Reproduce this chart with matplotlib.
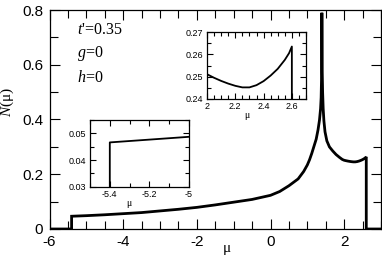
import numpy as np
import matplotlib
matplotlib.use("Agg")
import matplotlib.pyplot as plt
from matplotlib.ticker import MultipleLocator, FuncFormatter

plt.rcParams['axes.unicode_minus'] = False
plt.rcParams['font.family'] = ['Liberation Sans', 'DejaVu Sans']
plt.rcParams['mathtext.fontset'] = 'custom'
plt.rcParams['mathtext.rm'] = 'Liberation Serif'
plt.rcParams['mathtext.it'] = 'Liberation Serif:italic'

# density of states N(mu)
mu = [-6.0, -5.4, -5.4, -5.0, -4.5, -4.0, -3.5, -3.0, -2.5, -2.0, -1.5, -1.0, -0.5,
      0.0, 0.25, 0.5, 0.75, 0.9, 1.0, 1.06, 1.12, 1.18, 1.24, 1.29, 1.33, 1.36, 1.375, 1.387, 1.395,
      1.405, 1.415, 1.43, 1.45, 1.48, 1.53, 1.6, 1.69, 1.78, 1.87, 1.95,
      2.0, 2.05, 2.1, 2.15, 2.2, 2.25, 2.3, 2.35, 2.4, 2.45, 2.5, 2.55, 2.58, 2.6,
      2.6, 3.0]
dos = [0.0, 0.0, 0.0466, 0.0487, 0.052, 0.056, 0.060, 0.066, 0.072, 0.079, 0.088, 0.098, 0.108,
       0.123, 0.137, 0.158, 0.183, 0.21, 0.234, 0.253, 0.276, 0.302, 0.328, 0.362, 0.398, 0.44, 0.48, 0.56, 0.79,
       0.57, 0.50, 0.44, 0.395, 0.355, 0.322, 0.30, 0.285, 0.272, 0.262, 0.254,
       0.2511, 0.2495, 0.2481, 0.2469, 0.2459, 0.2452, 0.2452, 0.2462, 0.2480, 0.2505, 0.2535, 0.2575, 0.2605, 0.2635,
       0.0, 0.0]

params = ["$t$'=0.35", "$g$=0", "$h$=0"]
param_y = [0.909, 0.802, 0.688]

W, H = 382, 263
fig = plt.figure(figsize=(W / 100, H / 100), dpi=100)

def box(l, r, t, b):
    return [l / W, 1 - b / H, (r - l) / W, (b - t) / H]

def fmt(v, p):
    return '%g' % round(v, 4)

def style(a, size, ln, mln, pad):
    a.tick_params(which='both', direction='in', top=True, right=True, width=0.8,
                  labelsize=size, pad=pad)
    a.tick_params(which='major', length=ln)
    a.tick_params(which='minor', length=mln)
    for s in a.spines.values():
        s.set_linewidth(0.9)
    a.xaxis.set_major_formatter(FuncFormatter(fmt))
    a.yaxis.set_major_formatter(FuncFormatter(fmt))

# main axes
ax = fig.add_axes(box(49.5, 381, 10, 229))
ax.plot(mu, dos, color='black', lw=2.0, solid_joinstyle='miter')
ax.set_xlim(-6, 3)
ax.set_ylim(0, 0.8)
ax.xaxis.set_major_locator(MultipleLocator(2))
ax.xaxis.set_minor_locator(MultipleLocator(0.5))
ax.yaxis.set_major_locator(MultipleLocator(0.2))
ax.yaxis.set_minor_locator(MultipleLocator(0.1))
style(ax, 11, 7, 6, 4.5)
ax.set_xlabel('μ', family='Liberation Serif', fontsize=11)
ax.xaxis.set_label_coords(0.535, -0.06)
ax.set_ylabel('$N$(μ)', family='Liberation Serif', fontsize=11)
ax.yaxis.set_label_coords(-0.1, 0.58)
for s, y in zip(params, param_y):
    ax.text(0.083, y, s, transform=ax.transAxes, family='Liberation Serif',
            fontsize=11.5, va='center', ha='left')

# upper inset
ins1 = fig.add_axes(box(207, 306, 32, 99))
ins1.plot(mu, dos, color='black', lw=1.3)
ins1.set_xlim(2, 2.7)
ins1.set_ylim(0.24, 0.27)
ins1.xaxis.set_major_locator(MultipleLocator(0.2))
ins1.xaxis.set_minor_locator(MultipleLocator(0.05))
ins1.yaxis.set_major_locator(MultipleLocator(0.01))
ins1.yaxis.set_minor_locator(MultipleLocator(0.005))
style(ins1, 6.5, 4, 3, 2.5)
ins1.set_xlabel('μ', family='Liberation Serif', fontsize=7)
ins1.xaxis.set_label_coords(0.4, -0.18)

# lower inset
ins2 = fig.add_axes(box(90, 189, 120, 186.7))
ins2.plot(mu, dos, color='black', lw=1.3)
ins2.set_xlim(-5.5, -5)
ins2.set_ylim(0.03, 0.055)
ins2.xaxis.set_major_locator(MultipleLocator(0.2))
ins2.xaxis.set_minor_locator(MultipleLocator(0.1))
ins2.yaxis.set_major_locator(MultipleLocator(0.01))
ins2.yaxis.set_minor_locator(MultipleLocator(0.005))
style(ins2, 6.5, 4, 3, 2.5)
ins2.set_xlabel('μ', family='Liberation Serif', fontsize=7)
ins2.xaxis.set_label_coords(0.39, -0.18)

fig.savefig('out.png', dpi=100)
